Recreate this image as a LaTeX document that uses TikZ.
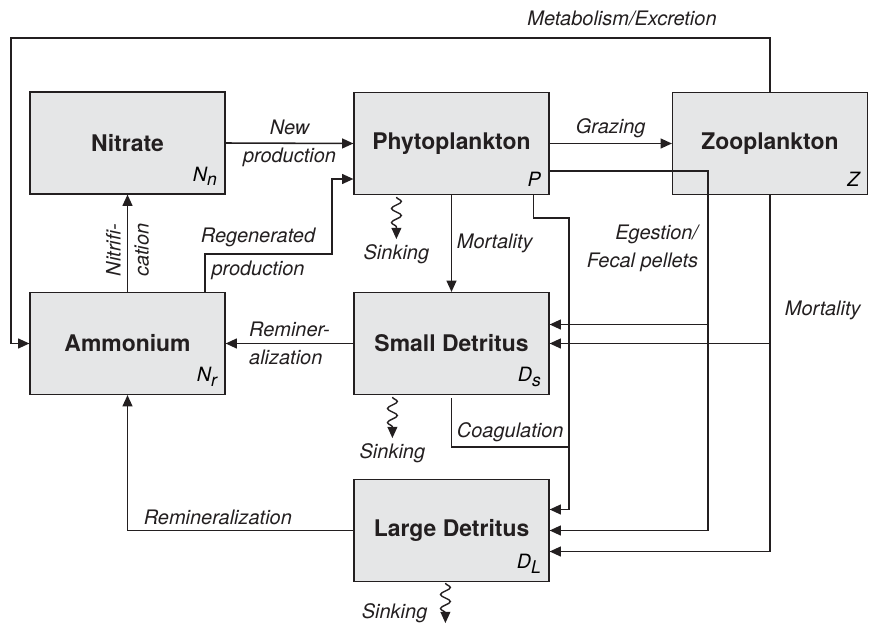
\documentclass[tikz,border=0pt]{standalone}
\usepackage{fontspec}
\setmainfont{TeX Gyre Heros}
\usepackage{tikz}
\usetikzlibrary{arrows.meta,positioning,calc,decorations.pathmorphing}
\definecolor{boxgray}{RGB}{229,230,231}
\definecolor{inkline}{RGB}{35,31,32}
\newcommand{\lowsub}[1]{\raisebox{-0.45ex}{\fontsize{12.5}{12.5}\selectfont #1}}

\begin{document}
\begin{tikzpicture}[x=0.025cm, y=-0.025cm,
  box/.style={draw=inkline, line width=0.8pt, fill=boxgray, text=inkline, minimum width=4.875cm, minimum height=2.55cm, inner sep=0pt, font=\fontsize{16.3}{19}\selectfont\bfseries},
  sym/.style={font=\fontsize{14}{16}\selectfont\mdseries\itshape, anchor=south east, inner sep=6pt},
  arrow/.style={-{Triangle[length=8pt, width=7pt]}, line width=1.1pt, line join=miter, inkline},
  flow/.style={line width=1.1pt, line join=miter, inkline},
  sink/.style={-{Triangle[length=8pt, width=7pt]}, line width=1pt, inkline, decorate, decoration={snake, amplitude=3.5pt, segment length=10pt, post length=7pt}},
  lbl/.style={font=\fontsize{14.2}{20}\selectfont\itshape, text=inkline}
]
\useasboundingbox (0,0) rectangle (869,624);
% Boxes
\node[box, label={[sym]south east:N\lowsub{n}}] (nt) at (127.5,143) {Nitrate};
\node[box, label={[sym]south east:P}] (ph) at (451.5,143.5) {Phytoplankton};
\node[box, label={[sym]south east:Z}] (zp) at (770,143.5) {Zooplankton};
\node[box, label={[sym]south east:N\lowsub{r}}] (am) at (127.5,343.5) {Ammonium};
\node[box, label={[sym]south east:D\lowsub{s}}] (sd) at (451.5,343.5) {Small Detritus};
\node[box, label={[sym]south east:D\lowsub{L}}] (ld) at (451.5,530.5) {Large Detritus};
% Uptake and grazing
\draw[arrow] (nt.east) -- (ph.west) node[midway, lbl, align=center] {New\\production};
\draw[arrow] (ph.east) -- (zp.west) node[midway, above, lbl] {Grazing};
\draw[arrow] (am.north) -- (nt.south) node[pos=0.43, lbl, rotate=90, align=center] {Nitrifi-\\cation};
\coordinate (rg1) at (205,254);
\coordinate (rg2) at (332,179);
\draw[arrow] (rg1 |- am.north) -- (rg1) -| (rg2) -- (rg2 -| ph.west);
\node[lbl, align=center] (regen) at (258,254) {Regenerated\\[3pt]production};
% Metabolism/Excretion
\coordinate (mtop) at (11,38);
\draw[arrow] (zp.north) |- (mtop) |- (am.west);
\node[lbl] (metab) at (622,18) {Metabolism/Excretion};
% Mortality
\draw[arrow] (ph.south) -- (sd.north) node[midway, right, lbl] {Mortality};
\coordinate (pm) at (569,218);
\draw[arrow] ($(ph.south east)+(-16,0)$) |- (pm) |- ($(ld.east)+(0,-21)$);
\draw[arrow] (zp.south) |- ($(ld.east)+(0,21)$);
\draw[arrow] (zp.south |- sd.east) -- (sd.east);
\node[lbl, anchor=west] (zmort) at (780,310) {Mortality};
% Egestion
\coordinate (eg) at (708,171);
\coordinate (egs) at ($(sd.east)+(0,-19)$);
\draw[arrow] (eg -| ph.east) -- (eg) |- (ld.east);
\draw[arrow] (eg |- egs) -- (egs);
\node[lbl, align=right, anchor=east] (egest) at (703,248) {Egestion/\\Fecal pellets};
% Coagulation
\coordinate (cg) at (569,447);
\draw[flow] ($(sd.south)+(0,3)$) |- (cg) node[pos=0.75, above, lbl] {Coagulation};
% Remineralization
\draw[arrow] (sd.west) -- (am.east) node[midway, lbl, align=left] {Reminer-\\alization};
\draw[arrow] (ld.west) -| (am.south) node[pos=0.3, above, lbl] {Remineralization};
% Sinking
\draw[sink] ($(ph.south west)+(43,2)$) -- ++(0,42) node[below, lbl] {Sinking};
\draw[sink] ($(sd.south west)+(39,2)$) -- ++(0,41) node[below, lbl] {Sinking};
\draw[sink] ($(ld.south west)+(92,1)$) -- ++(0,40) node[pos=0.75, left=9pt, lbl] {Sinking};
\end{tikzpicture}
\end{document}
